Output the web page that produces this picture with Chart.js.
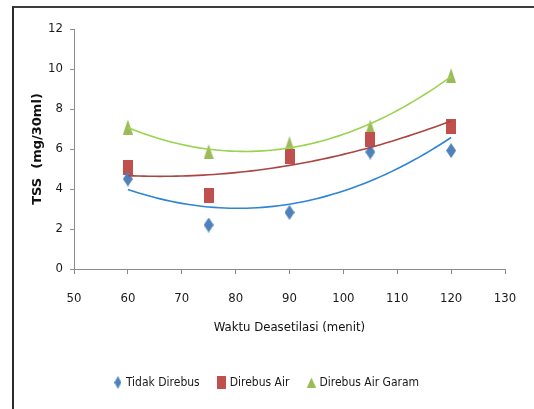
<!DOCTYPE html>
<html>
<head>
<meta charset="utf-8">
<script src="https://cdn.jsdelivr.net/npm/chart.js@4/dist/chart.umd.min.js"></script>
<style>
  body { margin: 0; background: #fff; }
  #wrap { position: relative; width: 534px; height: 409px; overflow: hidden; }
  #frame { position: absolute; left: 12px; top: 6px; width: 600px; height: 500px;
           border-left: 2px solid #2b2b2b; border-top: 2px solid #3c3c3c; pointer-events: none; }
  canvas { position: absolute; left: 0; top: 0; }
</style>
</head>
<body>
<div id="wrap">
  <canvas id="grafico" width="534" height="409"></canvas>
  <div id="frame"></div>
</div>
<script>
// waktu deasetilasi (menit)
const waktu = [60, 75, 90, 105, 120];
const tidakDirebus = [4.5, 2.2, 2.83, 5.85, 5.92];
const direbusAir = [5.1, 3.7, 5.62, 6.5, 7.12];
const direbusAirGaram = [7.1, 5.87, 6.27, 7.1, 9.67];
const xTicks = [50, 60, 70, 80, 90, 100, 110, 120, 130];
const yTicks = [0, 2, 4, 6, 8, 10, 12];

const FONT = "'Liberation Sans Narrow', 'DejaVu Sans Condensed', sans-serif";

function makeMarker(shape, w, h, color) {
    const c = document.createElement('canvas');
    c.width = w; c.height = h;
    const g = c.getContext('2d');
    g.fillStyle = color;
    g.beginPath();
    if (shape === 'diamond') {
        g.moveTo(w / 2, 0); g.lineTo(w, h / 2); g.lineTo(w / 2, h); g.lineTo(0, h / 2);
    } else if (shape === 'triangle') {
        g.moveTo(w / 2, 0); g.lineTo(w, h); g.lineTo(0, h);
    } else {
        g.rect(0, 0, w, h);
    }
    g.closePath();
    g.fill();
    return c;
}

// trendline polinomial orde 2 (least squares) dari data
function trendPoly2(xs, ys) {
    const n = xs.length;
    let s = [0, 0, 0, 0, 0], t = [0, 0, 0];
    for (let i = 0; i < n; i++) {
        for (let k = 0; k < 5; k++) s[k] += Math.pow(xs[i], k);
        for (let k = 0; k < 3; k++) t[k] += ys[i] * Math.pow(xs[i], k);
    }
    const M = [[s[0], s[1], s[2], t[0]], [s[1], s[2], s[3], t[1]], [s[2], s[3], s[4], t[2]]];
    for (let i = 0; i < 3; i++) {
        for (let j = i + 1; j < 3; j++) {
            const f = M[j][i] / M[i][i];
            for (let k = i; k < 4; k++) M[j][k] -= f * M[i][k];
        }
    }
    const c = [0, 0, 0];
    for (let i = 2; i >= 0; i--) {
        let v = M[i][3];
        for (let k = i + 1; k < 3; k++) v -= M[i][k] * c[k];
        c[i] = v / M[i][i];
    }
    const pts = [];
    for (let x = xs[0]; x <= xs[n - 1]; x += 1) pts.push({ x: x, y: c[0] + c[1] * x + c[2] * x * x });
    return pts;
}

function toPoints(ys) {
    return waktu.map((x, i) => ({ x: x, y: ys[i] }));
}

const series = [
    { label: 'Tidak Direbus', data: tidakDirebus, color: '#4F81BD', line: '#2E84D6', shape: 'diamond', lw: 7, lh: 13 },
    { label: 'Direbus Air', data: direbusAir, color: '#C0504D', line: '#AA4541', shape: 'rect', lw: 9, lh: 13 },
    { label: 'Direbus Air Garam', data: direbusAirGaram, color: '#9BBB59', line: '#9AD34F', shape: 'triangle', lw: 9, lh: 10 }
];

const datasets = [];
series.forEach(s => {
    datasets.push({
        label: s.label,
        data: toPoints(s.data),
        pointStyle: makeMarker(s.shape, 10, 15, s.color),
        legendStyle: makeMarker(s.shape, s.lw, s.lh, s.color),
        backgroundColor: s.color,
        borderColor: s.color,
        showLine: false,
        order: 2
    });
});
series.forEach(s => {
    datasets.push({
        label: 'trend',
        data: trendPoly2(waktu, s.data),
        borderColor: s.line,
        borderWidth: 1.6,
        pointRadius: 0,
        showLine: true,
        tension: 0,
        order: 1
    });
});

const ctx = document.getElementById('grafico').getContext('2d');
const grafico = new Chart(ctx, {
    type: 'scatter',
    data: { datasets: datasets },
    options: {
        responsive: false,
        animation: false,
        devicePixelRatio: 1,
        layout: { padding: { left: 30, right: 29, top: 29, bottom: 10.5 } },
        plugins: {
            tooltip: { enabled: false },
            legend: {
                position: 'bottom',
                labels: {
                    usePointStyle: true,
                    pointStyleWidth: 4,
                    padding: 20,
                    color: '#1a1a1a',
                    font: { family: FONT, size: 12 },
                    filter: item => item.text !== 'trend',
                    generateLabels: chart => {
                        const items = Chart.defaults.plugins.legend.labels.generateLabels(chart);
                        items.forEach(it => { it.pointStyle = chart.data.datasets[it.datasetIndex].legendStyle; });
                        return items;
                    }
                }
            }
        },
        scales: {
            x: {
                type: 'linear',
                min: 50, max: 130,
                afterBuildTicks: scale => { scale.ticks = xTicks.map(v => ({ value: v })); },
                afterFit: scale => { scale.height = 87.5; },
                border: { color: '#8c8c8c', width: 1 },
                grid: { drawOnChartArea: false, color: '#8c8c8c', tickLength: 5 },
                ticks: { color: '#1a1a1a', padding: 17, font: { family: FONT, size: 13 } },
                title: {
                    display: true,
                    text: 'Waktu Deasetilasi (menit)',
                    color: '#111',
                    font: { family: FONT, size: 13 },
                    padding: { top: 0, bottom: 21 }
                }
            },
            y: {
                min: 0, max: 12,
                afterBuildTicks: scale => { scale.ticks = yTicks.map(v => ({ value: v })); },
                afterFit: scale => { scale.width = 44; },
                border: { color: '#8c8c8c', width: 1 },
                grid: { drawOnChartArea: false, color: '#8c8c8c', tickLength: 4 },
                ticks: { color: '#1a1a1a', padding: 7, font: { family: FONT, size: 13 } },
                title: {
                    display: true,
                    text: 'TSS  (mg/30ml)',
                    color: '#111',
                    font: { family: "'DejaVu Sans', sans-serif", size: 13, weight: 'bold' },
                    padding: { top: 0, bottom: 0 }
                }
            }
        }
    }
});
</script>
</body>
</html>
